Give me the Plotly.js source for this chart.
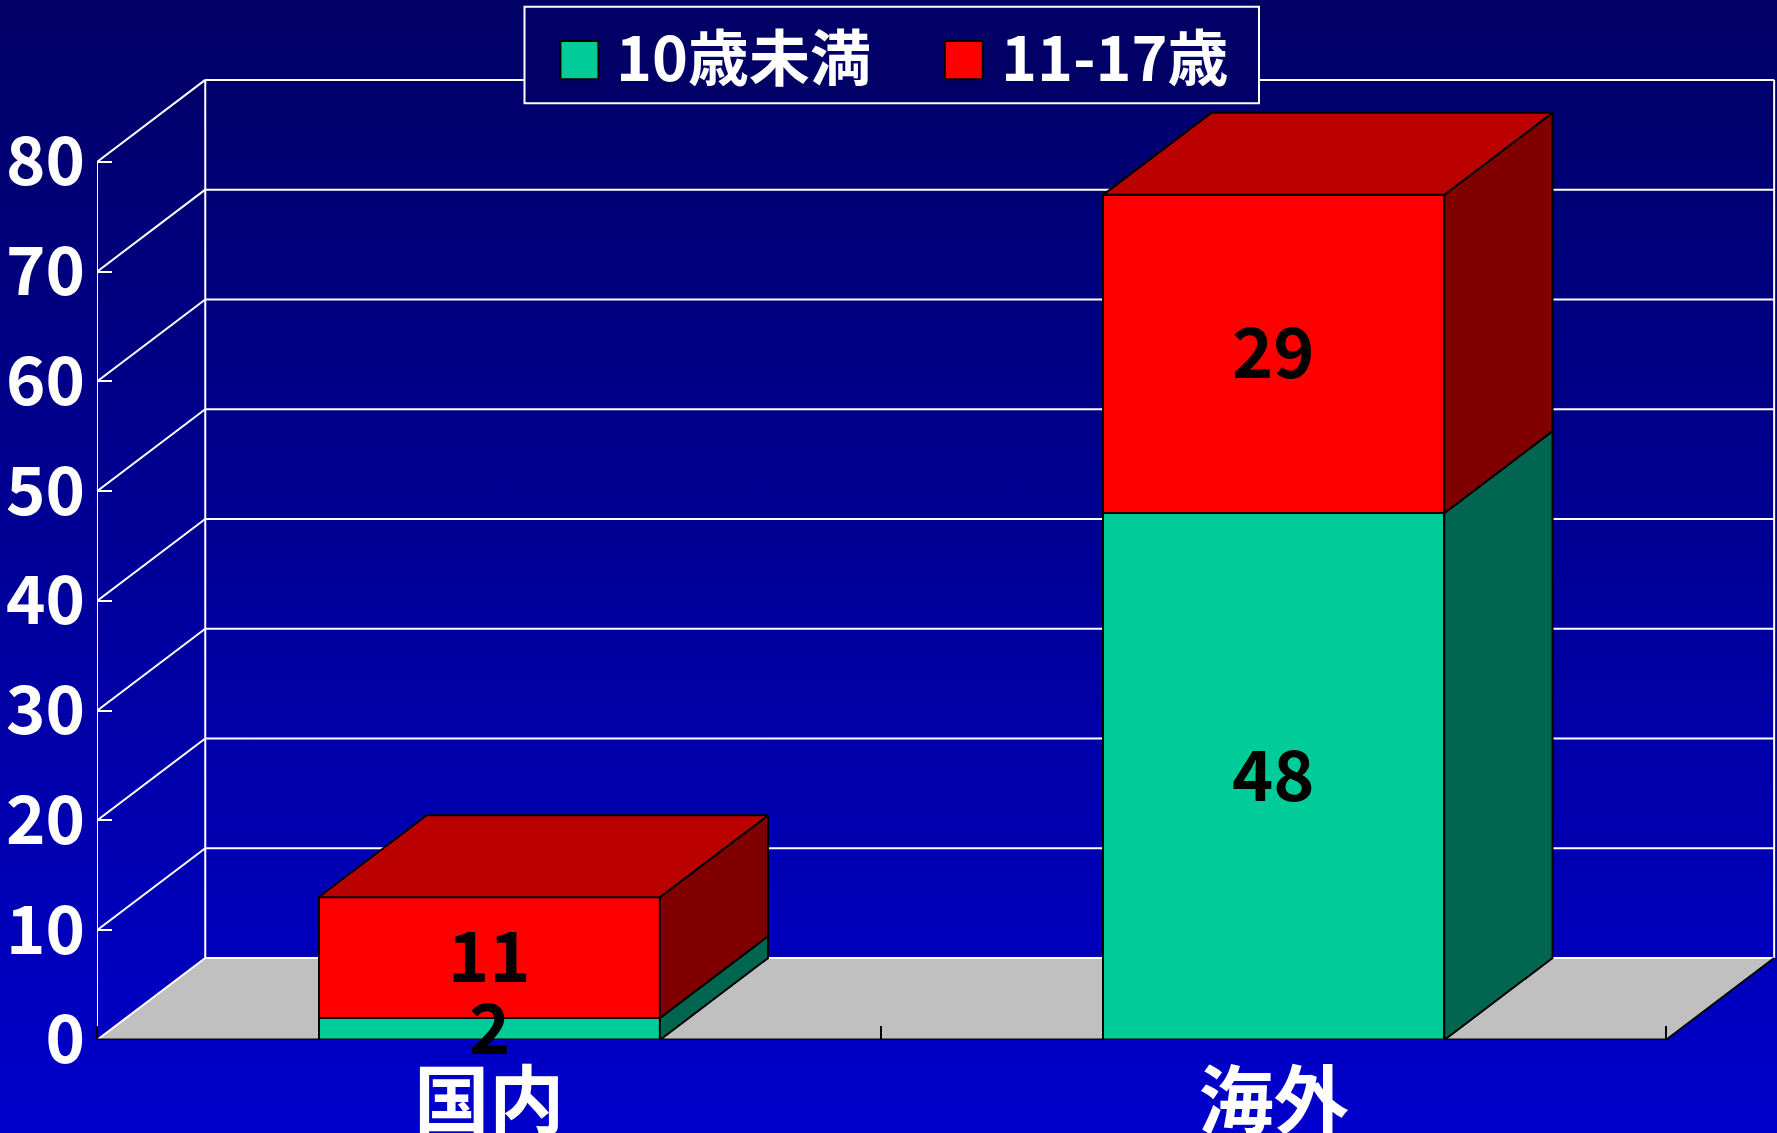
<!DOCTYPE html>
<html>
<head>
<meta charset="utf-8">
<script src="https://cdn.plot.ly/plotly-3.0.1.min.js"></script>
<style>
  html, body { margin: 0; padding: 0; }
  #chart { width: 1777px; height: 1133px; background: linear-gradient(to bottom, #000064 0%, #0000CC 100%); }
</style>
</head>
<body>
<div id="chart"></div>
<script>
// ---------------- data ----------------
const categories = ['国内', '海外'];
const seriesNames = ['10歳未満', '11-17歳'];
const under10 = [2, 48];
const age11to17 = [11, 29];
const yTickVals = [0, 10, 20, 30, 40, 50, 60, 70, 80];

// ---------------- style ----------------
const frontColors = ['#00CC99', '#FF0000'];
const sideColors = ['#006650', '#800000'];
const topColors = ['#00A37A', '#BB0000'];
const NARROW = 'Liberation Sans Narrow, Noto Sans CJK JP';
const CJK = 'Noto Sans CJK JP';

const series = [under10, age11to17];
const xs = categories.map((_, i) => i);
const DX = 0.138, DY = 7.47, BW = 0.435;
const X0 = -0.5, X1 = categories.length - 0.5;
const YMAX = yTickVals[yTickVals.length - 1];

// plot-area geometry (pixels) for paper conversions
const L = 97, PW = 1680, PH = 1040;
const px = p => (p - L) / PW;
const py = p => (PH - p) / PH;

const traces = [];
// front faces: stacked bars
series.forEach((vals, k) => {
  traces.push({
    type: 'bar', x: xs, y: vals, name: seriesNames[k], width: BW,
    marker: { color: frontColors[k], line: { color: '#000', width: 2 } },
    showlegend: false, hoverinfo: 'skip'
  });
});

// side & top faces
const bases = xs.map(() => 0);
series.forEach((vals, k) => {
  const sx = [], sy = [];
  vals.forEach((v, i) => {
    const b = bases[i], t = b + v, xr = i + BW / 2;
    sx.push(xr, xr + DX, xr + DX, xr, xr, null);
    sy.push(b, b + DY, t + DY, t, b, null);
  });
  traces.push({
    type: 'scatter', mode: 'lines', x: sx, y: sy, fill: 'toself',
    fillcolor: sideColors[k], line: { color: '#000', width: 2 },
    showlegend: false, hoverinfo: 'skip'
  });
  vals.forEach((v, i) => { bases[i] += v; });
});
{
  const k = series.length - 1;
  const tx = [], ty = [];
  xs.forEach((i) => {
    const t = bases[i], xl = i - BW / 2, xr = i + BW / 2;
    tx.push(xl, xr, xr + DX, xl + DX, xl, null);
    ty.push(t, t, t + DY, t + DY, t, null);
  });
  traces.push({
    type: 'scatter', mode: 'lines', x: tx, y: ty, fill: 'toself',
    fillcolor: topColors[k], line: { color: '#000', width: 2 },
    showlegend: false, hoverinfo: 'skip'
  });
}

// walls, floor, grid
const shapes = [];
shapes.push({
  type: 'path', layer: 'below', xref: 'x', yref: 'y',
  path: `M${X0},0 L${X1},0 L${X1 + DX},${DY} L${X0 + DX},${DY} Z`,
  fillcolor: '#C0C0C0', line: { width: 0 }
});
yTickVals.forEach(v => {
  shapes.push({ type: 'line', layer: 'below', x0: X0 + DX, x1: X1 + DX, y0: v + DY, y1: v + DY, line: { color: '#fff', width: 2 } });
  shapes.push({ type: 'line', layer: 'below', x0: X0, x1: X0 + DX, y0: v, y1: v + DY, line: { color: '#fff', width: 2 } });
});
shapes.push({ type: 'line', layer: 'below', x0: X0 + DX, x1: X0 + DX, y0: DY, y1: YMAX + DY, line: { color: '#fff', width: 2 } });
shapes.push({ type: 'line', layer: 'below', x0: X1 + DX, x1: X1 + DX, y0: DY, y1: YMAX + DY, line: { color: '#fff', width: 2 } });
shapes.push({ type: 'line', layer: 'below', x0: X0, x1: X0, y0: 0, y1: YMAX, line: { color: '#fff', width: 2 } });
shapes.push({ type: 'line', layer: 'above', x0: X0, x1: X1, y0: 0, y1: 0, line: { color: '#000', width: 3 } });
shapes.push({ type: 'line', layer: 'below', x0: X1, x1: X1 + DX, y0: 0, y1: DY, line: { color: '#000', width: 2 } });

// legend (manual, large swatches)
shapes.push({ type: 'rect', xref: 'paper', yref: 'paper', layer: 'above',
  x0: px(524.5), x1: px(1259), y0: py(103.3), y1: py(6.7),
  fillcolor: '#000066', line: { color: '#fff', width: 2 } });
const legendSwatchX = [560.4, 944.8];
const legendTextX = [614, 999];
const annotations = [];
seriesNames.forEach((nm, k) => {
  shapes.push({ type: 'rect', xref: 'paper', yref: 'paper', layer: 'above',
    x0: px(legendSwatchX[k]), x1: px(legendSwatchX[k] + 38), y0: py(79.3), y1: py(41),
    fillcolor: frontColors[k], line: { color: '#000', width: 2 } });
  annotations.push({ xref: 'paper', yref: 'paper', x: px(legendTextX[k]), y: py(54),
    xanchor: 'left', yanchor: 'middle', showarrow: false, text: nm,
    font: { family: NARROW, size: 61, color: '#fff', weight: 'bold' } });
});

// data labels
const cum = xs.map(() => 0);
series.forEach((vals) => {
  vals.forEach((v, i) => {
    annotations.push({ x: i, y: cum[i] + v / 2, xref: 'x', yref: 'y', text: String(v), showarrow: false,
      xanchor: 'center', yanchor: 'middle', yshift: 6,
      font: { family: NARROW, size: 70, color: '#000', weight: 'bold' } });
    cum[i] += v;
  });
});

const layout = {
  width: 1777, height: 1133,
  paper_bgcolor: 'rgba(0,0,0,0)', plot_bgcolor: 'rgba(0,0,0,0)',
  margin: { l: L, r: 1777 - L - PW, t: 0, b: 1133 - PH, pad: 0 },
  barmode: 'stack', showlegend: false,
  xaxis: {
    range: [X0, X0 + PW / 784.45], tickvals: xs, ticktext: categories, ticks: '',
    showgrid: false, zeroline: false, showline: false, fixedrange: true, ticklabelstandoff: 12,
    tickfont: { family: CJK, size: 75, color: '#fff', weight: 'bold' },
    minor: { tickvals: [X0, 0.5, X1], ticks: 'inside', ticklen: 14, tickwidth: 2, tickcolor: '#000', showgrid: false }
  },
  yaxis: {
    range: [0, PH / ((1040.4 - 162.3) / 80)], tickvals: yTickVals, ticks: 'inside', ticklen: 15, tickwidth: 2,
    tickcolor: '#fff', showgrid: false, zeroline: false, showline: false, fixedrange: true, ticklabelstandoff: 11,
    tickfont: { family: NARROW, size: 67, color: '#fff', weight: 'bold' }
  },
  shapes: shapes, annotations: annotations
};

Plotly.newPlot('chart', traces, layout, { staticPlot: true, displayModeBar: false });
</script>
</body>
</html>
